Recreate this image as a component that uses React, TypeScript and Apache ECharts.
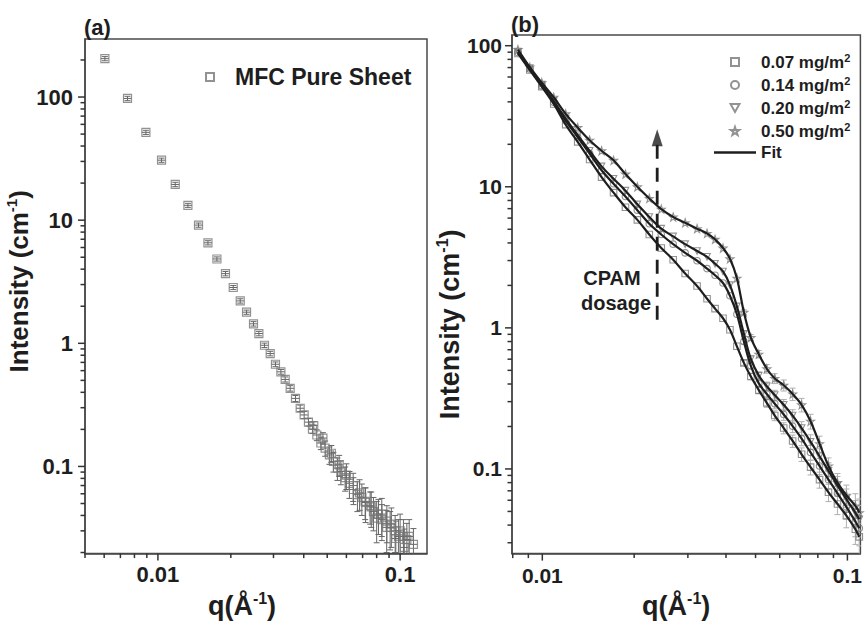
import { useEffect, useRef } from 'react';
import * as echarts from 'echarts';

const FONT = '"Liberation Sans", Arial, Helvetica, sans-serif';
const TXT = '#1e1e1e';
const AX = '#4a4a4a';
const TICK = '#333333';
const MK = '#777777';

// ---------- Panel (a): MFC pure sheet ----------
const qA = [0.00604, 0.00749, 0.00892, 0.01035, 0.01179, 0.0133, 0.01471, 0.01609, 0.01752, 0.01901, 0.02046, 0.02187, 0.02322, 0.02481, 0.02611, 0.02754, 0.02908, 0.03057, 0.03219, 0.03353, 0.03516, 0.03698, 0.03867, 0.04016, 0.04183, 0.04345, 0.0453, 0.04706, 0.04902, 0.05106, 0.05304, 0.0551, 0.05692, 0.05929, 0.06177, 0.06416, 0.06665, 0.0695, 0.07171, 0.0752, 0.0776, 0.08139, 0.08407, 0.08815, 0.09093, 0.09537, 0.0984, 0.1032, 0.1066, 0.1135];
const iA = [205, 97.4, 51.7, 30.7, 19.5, 13.2, 9.12, 6.55, 4.84, 3.68, 2.84, 2.21, 1.79, 1.44, 1.2, 0.964, 0.826, 0.676, 0.587, 0.509, 0.431, 0.357, 0.297, 0.262, 0.229, 0.201, 0.18, 0.155, 0.141, 0.124, 0.11, 0.097, 0.091, 0.081, 0.073, 0.065, 0.059, 0.056, 0.052, 0.048, 0.043, 0.041, 0.037, 0.036, 0.032, 0.03, 0.027, 0.027, 0.0255, 0.0233];
const errA = [8, 4, 2, 1.2, 0.8, 0.5, 0.36, 0.26, 0.19, 0.15, 0.11, 0.09, 0.07, 0.06, 0.05, 0.04, 0.035, 0.03, 0.026, 0.024, 0.022, 0.02, 0.018, 0.017, 0.016, 0.016, 0.018, 0.018, 0.02, 0.02, 0.02, 0.02, 0.02, 0.018, 0.018, 0.016, 0.016, 0.016, 0.015, 0.014, 0.013, 0.013, 0.012, 0.012, 0.011, 0.01, 0.01, 0.01, 0.009, 0.008];
// second, overlapping set of points at high q
const qA2 = [0.044, 0.048, 0.052, 0.056, 0.06, 0.064, 0.068, 0.072, 0.076, 0.08, 0.084, 0.088, 0.092, 0.096, 0.1, 0.104, 0.109];
const iA2 = [0.215, 0.17, 0.128, 0.103, 0.085, 0.07, 0.061, 0.051, 0.047, 0.038, 0.041, 0.032, 0.034, 0.026, 0.03, 0.022, 0.027];
const errA2 = [0.015, 0.018, 0.02, 0.02, 0.02, 0.018, 0.017, 0.016, 0.015, 0.014, 0.014, 0.012, 0.012, 0.01, 0.011, 0.009, 0.01];

// ---------- Panel (b): CPAM dosages ----------
const qB = [0.00832, 0.0091, 0.00996, 0.0109, 0.01193, 0.01306, 0.01429, 0.01564, 0.01712, 0.01873, 0.02049, 0.02242, 0.02454, 0.02685, 0.02939, 0.03216, 0.03467, 0.03683, 0.03911, 0.04121, 0.04343, 0.04578, 0.04825, 0.05124, 0.05442, 0.05779, 0.06184, 0.06615, 0.07078, 0.07572, 0.08103, 0.0867, 0.09277, 0.09925, 0.1062, 0.1094];
const iB007 = [88.1, 67.2, 51.3, 38.6, 27.6, 20.8, 15.6, 11.7, 9.09, 7.16, 5.83, 4.59, 3.68, 3.04, 2.43, 1.98, 1.61, 1.37, 1.17, 0.969, 0.74, 0.565, 0.452, 0.362, 0.294, 0.239, 0.195, 0.158, 0.127, 0.103, 0.084, 0.0683, 0.0565, 0.0467, 0.0374, 0.033];
const iB014 = [89.5, 68.3, 52.1, 39.8, 29.4, 22.5, 17.2, 13.1, 10.5, 8.53, 6.83, 5.47, 4.59, 3.92, 3.4, 2.99, 2.63, 2.36, 2.08, 1.69, 1.25, 0.801, 0.538, 0.404, 0.34, 0.29, 0.243, 0.201, 0.164, 0.131, 0.105, 0.084, 0.0672, 0.0538, 0.0424, 0.038];
const iB020 = [90.9, 69.4, 53.0, 40.5, 30.4, 23.2, 18.0, 13.96, 11.4, 9.39, 7.51, 6.11, 5.05, 4.45, 3.92, 3.51, 3.19, 2.85, 2.51, 2.01, 1.42, 0.909, 0.602, 0.459, 0.386, 0.334, 0.285, 0.239, 0.195, 0.156, 0.123, 0.0969, 0.0763, 0.0611, 0.0489, 0.044];
const iB050 = [93.9, 70.5, 54.7, 43.1, 32.9, 26.3, 21.4, 18.0, 15.4, 12.3, 10.0, 8.27, 6.94, 6.11, 5.56, 5.05, 4.67, 4.24, 3.68, 3.09, 2.25, 1.29, 0.853, 0.651, 0.513, 0.438, 0.392, 0.34, 0.285, 0.218, 0.151, 0.105, 0.08, 0.0651, 0.0547, 0.049];
// relative error of the (b) points (error bars visible at high q only)
const relErrB = [0, 0, 0, 0, 0, 0, 0, 0, 0, 0, 0, 0, 0, 0, 0, 0, 0, 0, 0, 0, 0, 0.04, 0.05, 0.06, 0.07, 0.08, 0.09, 0.1, 0.11, 0.12, 0.13, 0.14, 0.16, 0.18, 0.22, 0.25];
const namesB = ['0.07 mg/m2', '0.14 mg/m2', '0.20 mg/m2', '0.50 mg/m2'];
const valuesB = [iB007, iB014, iB020, iB050];

// arrow annotation ("CPAM dosage") in data coordinates
const arrowQ = 0.0238;
const arrowFrom = 1.14;
const arrowTo = 20;
const arrowHead = 22.3;

// ---------- axis extents and ticks ----------
const xRangeA = [0.005, 0.1291];
const yRangeA = [0.0196, 296];
const xRangeB = [0.007955, 0.1103];
const yRangeB = [0.02512, 119.1];
const xMajorA = [0.01, 0.1];
const xMinorA = [0.005, 0.006, 0.007, 0.008, 0.009, 0.02, 0.03, 0.04, 0.05, 0.06, 0.07, 0.08, 0.09];
const yMajorA = [0.1, 1, 10, 100];
const yMinorA = [0.02, 0.03, 0.04, 0.05, 0.06, 0.07, 0.08, 0.09, 0.2, 0.3, 0.4, 0.5, 0.6, 0.7, 0.8, 0.9, 2, 3, 4, 5, 6, 7, 8, 9, 20, 30, 40, 50, 60, 70, 80, 90, 200];
const xMajorB = [0.01, 0.1];
const xMinorB = [0.008, 0.009, 0.02, 0.03, 0.04, 0.05, 0.06, 0.07, 0.08, 0.09];
const yMajorB = [0.1, 1, 10, 100];
const yMinorB = [0.03, 0.04, 0.05, 0.06, 0.07, 0.08, 0.09, 0.2, 0.3, 0.4, 0.5, 0.6, 0.7, 0.8, 0.9, 2, 3, 4, 5, 6, 7, 8, 9, 20, 30, 40, 50, 60, 70, 80, 90];

const SYM_SQUARE = 'path://M0,0H10V10H0Z';
const SYM_CIRCLE = 'path://M5,0A5,5,0,1,1,5,10A5,5,0,1,1,5,0Z';
const SYM_TRI = 'path://M0,0H10L5,9Z';
const SYM_STAR = 'path://M5,0L6.2,3.6L10,3.6L7,5.9L8.1,9.5L5,7.3L1.9,9.5L3,5.9L0,3.6L3.8,3.6Z';
const SYM_ARROW = 'path://M5,0L10,16L0,16Z';
const symbolsB = [SYM_SQUARE, SYM_CIRCLE, SYM_TRI, SYM_STAR];

const fmt = (v: number) => String(Number(Number(v).toPrecision(2)));

function mainAxis(grid: number, range: number[], majors: number[], fontSize: number, margin: number, extra: any) {
  return {
    type: 'log', logBase: 10, gridIndex: grid, min: range[0], max: range[1],
    axisLine: { show: true, onZero: false, lineStyle: { color: AX, width: 1.5 } },
    axisTick: { show: false },
    axisLabel: { show: true, customValues: majors, formatter: fmt, fontSize, fontWeight: 'bold', fontFamily: FONT, color: TXT, margin },
    splitLine: { show: false },
    ...extra,
  };
}

// tick marks drawn through the axes' own scales
function tickSeries(axisIdx: number, dir: string, majors: number[], minors: number[], other: number) {
  const rows = majors.map((v) => [v, 1]).concat(minors.map((v) => [v, 0]));
  return {
    type: 'custom', xAxisIndex: axisIdx, yAxisIndex: axisIdx, clip: false, silent: true, z: 10,
    data: rows.map((d) => (dir === 'x' ? [d[0], other, d[1]] : [other, d[0], d[1]])),
    encode: { x: 0, y: 1 },
    renderItem: (params: any, api: any) => {
      const cs = params.coordSys;
      const p = api.coord([api.value(0), api.value(1)]);
      const major = api.value(2) > 0.5;
      const len = major ? 7 : 4.5;
      const style = { stroke: TICK, lineWidth: 1.5 };
      if (dir === 'x') {
        const yb = cs.y + cs.height;
        return { type: 'line', shape: { x1: p[0], y1: yb, x2: p[0], y2: yb + len }, style };
      }
      return { type: 'line', shape: { x1: cs.x, y1: p[1], x2: cs.x - len, y2: p[1] }, style };
    },
  };
}

function errSeries(axisIdx: number, data: number[][], color: string, cap: number, mid: boolean) {
  return {
    type: 'custom', xAxisIndex: axisIdx, yAxisIndex: axisIdx, clip: true, silent: true, z: 1,
    data,
    encode: { x: 0, y: 1 },
    renderItem: (_p: any, api: any) => {
      const q = api.value(0), v = api.value(1), e = api.value(2);
      const c = api.coord([q, v]);
      const hi = api.coord([q, v + e]);
      const lo = api.coord([q, Math.max(v - e, 1e-4)]);
      const st = { stroke: color, lineWidth: 1 };
      const kids: any[] = [
        { type: 'line', shape: { x1: c[0], y1: hi[1], x2: c[0], y2: lo[1] }, style: st },
        { type: 'line', shape: { x1: c[0] - cap, y1: hi[1], x2: c[0] + cap, y2: hi[1] }, style: st },
        { type: 'line', shape: { x1: c[0] - cap, y1: lo[1], x2: c[0] + cap, y2: lo[1] }, style: st },
      ];
      if (mid) kids.push({ type: 'line', shape: { x1: c[0] - 4, y1: c[1], x2: c[0] + 4, y2: c[1] }, style: st });
      return { type: 'group', children: kids };
    },
  };
}

const nameRich = (size: number) => ({
  a: { fontSize: size, fontWeight: 'bold', fontFamily: FONT, color: TXT, lineHeight: 30 },
  s: { fontSize: Math.round(size * 0.58), fontWeight: 'bold', fontFamily: FONT, color: TXT, lineHeight: 17, verticalAlign: 'top' },
});

function buildOption(): any {
  const aData = qA.map((q, i) => [q, iA[i], errA[i]]).concat(qA2.map((q, i) => [q, iA2[i], errA2[i]]));
  const bErrData: number[][] = [];
  valuesB.forEach((vals) => qB.forEach((q, i) => { if (relErrB[i] > 0) bErrData.push([q, vals[i], vals[i] * relErrB[i]]); }));

  const scatterB = namesB.map((name, k) => ({
    type: 'scatter', name, xAxisIndex: 1, yAxisIndex: 1, z: 2,
    symbol: symbolsB[k], symbolSize: k === 3 ? 8 : 6.5,
    itemStyle: { color: 'rgba(0,0,0,0)', borderColor: MK, borderWidth: 1.1 },
    data: qB.map((q, i) => [q, valuesB[k][i]]),
  }));
  const fitB = namesB.map((_n, k) => ({
    type: 'line', name: 'Fit', xAxisIndex: 1, yAxisIndex: 1, z: 3,
    symbol: 'none', showSymbol: false, smooth: 0.35,
    lineStyle: { color: TXT, width: 2.2 },
    itemStyle: { color: TXT },
    data: qB.map((q, i) => [q, valuesB[k][i]]),
  }));
  const arrowLine = {
    type: 'line', name: 'arrow', xAxisIndex: 1, yAxisIndex: 1, z: 4, silent: true,
    symbol: 'none', showSymbol: false,
    lineStyle: { color: TXT, width: 2.8, type: [14, 9] },
    data: [[arrowQ, arrowFrom], [arrowQ, arrowTo]],
  };
  const arrowTip = {
    type: 'scatter', name: 'arrowhead', xAxisIndex: 1, yAxisIndex: 1, z: 4, silent: true,
    symbol: SYM_ARROW, symbolSize: [11, 17],
    itemStyle: { color: TXT },
    data: [[arrowQ, arrowHead]],
  };

  return {
    animation: false,
    backgroundColor: '#ffffff',
    grid: [
      { left: 85, top: 39, width: 342, height: 517, show: true, borderColor: AX, borderWidth: 1.5 },
      { left: 512, top: 35, width: 350, height: 533, show: true, borderColor: AX, borderWidth: 1.5 },
    ],
    xAxis: [
      mainAxis(0, xRangeA, xMajorA, 22, 10, {
        position: 'bottom', name: '{a|q(Å}{s|-1}{a|)}', nameLocation: 'middle', nameGap: 33,
        nameTextStyle: { rich: nameRich(27), padding: [0, 28, 0, 0] },
      }),
      mainAxis(1, xRangeB, xMajorB, 21, 11, {
        position: 'bottom', name: '{a|q(Å}{s|-1}{a|)}', nameLocation: 'middle', nameGap: 26,
        nameTextStyle: { rich: nameRich(27), padding: [0, 20, 0, 0] },
      }),
    ],
    yAxis: [
      mainAxis(0, yRangeA, yMajorA, 22, 12, {
        position: 'left', name: '{a|Intensity (cm}{s|-1}{a|)}', nameLocation: 'middle', nameGap: 39,
        nameTextStyle: { rich: nameRich(26), padding: [0, 0, 0, 30] },
      }),
      mainAxis(1, yRangeB, yMajorB, 21, 10, {
        position: 'left', name: '{a|Intensity (cm}{s|-1}{a|)}', nameLocation: 'middle', nameGap: 28,
        nameTextStyle: { rich: nameRich(27), padding: [0, 60, 0, 0] },
      }),
    ],
    legend: [
      {
        orient: 'vertical', left: 200, top: 58, itemWidth: 40, itemHeight: 8, selectedMode: false,
        data: [{ name: 'MFC Pure Sheet', icon: SYM_SQUARE }],
        textStyle: { fontSize: 23, fontWeight: 'bold', fontFamily: FONT, color: TXT, lineHeight: 28 },
      },
      {
        orient: 'vertical', left: 709, top: 47, itemWidth: 42, itemHeight: 8, itemGap: 4.5, selectedMode: false,
        data: [
          ...namesB,
          { name: 'Fit', icon: 'path://M0,0H42V2.4H0Z', itemStyle: { color: TXT, borderColor: TXT, borderWidth: 0 } },
        ],
        formatter: (name: string) => (name === 'Fit' ? '{n|Fit}' : `{n|${name.slice(0, -1)}}{s|2}`),
        textStyle: {
          color: TXT,
          rich: {
            n: { fontSize: 17, fontWeight: 'bold', fontFamily: FONT, color: TXT, lineHeight: 20 },
            s: { fontSize: 11, fontWeight: 'bold', fontFamily: FONT, color: TXT, lineHeight: 12, verticalAlign: 'top' },
          },
        },
      },
    ],
    graphic: [
      { type: 'text', x: 84, y: 27, style: { text: '(a)', fontSize: 22, fontWeight: 'bold', fontFamily: FONT, fill: TXT, textVerticalAlign: 'middle' } },
      { type: 'text', x: 511, y: 24, style: { text: '(b)', fontSize: 22, fontWeight: 'bold', fontFamily: FONT, fill: TXT, textVerticalAlign: 'middle' } },
      { type: 'text', x: 612, y: 278, style: { text: 'CPAM', fontSize: 20, fontWeight: 'bold', fontFamily: FONT, fill: TXT, textAlign: 'center', textVerticalAlign: 'middle' } },
      { type: 'text', x: 616, y: 303, style: { text: 'dosage', fontSize: 20, fontWeight: 'bold', fontFamily: FONT, fill: TXT, textAlign: 'center', textVerticalAlign: 'middle' } },
    ],
    series: [
      {
        type: 'scatter', name: 'MFC Pure Sheet', xAxisIndex: 0, yAxisIndex: 0, z: 2,
        symbol: SYM_SQUARE, symbolSize: 8,
        itemStyle: { color: 'rgba(0,0,0,0)', borderColor: MK, borderWidth: 1.2 },
        data: aData.map((d) => [d[0], d[1]]),
      },
      errSeries(0, aData, '#666', 3, true),
      errSeries(1, bErrData, '#b0b0b0', 3, false),
      ...scatterB,
      ...fitB,
      arrowLine,
      arrowTip,
      tickSeries(0, 'x', xMajorA, xMinorA, yRangeA[0]),
      tickSeries(0, 'y', yMajorA, yMinorA, xRangeA[0]),
      tickSeries(1, 'x', xMajorB, xMinorB, yRangeB[0]),
      tickSeries(1, 'y', yMajorB, yMinorB, xRangeB[0]),
    ],
  };
}

export default function App() {
  const ref = useRef<HTMLDivElement>(null);
  useEffect(() => {
    document.body.style.margin = '0';
    const chart = echarts.init(ref.current as HTMLDivElement, null, { renderer: 'svg' });
    chart.setOption(buildOption());
    return () => chart.dispose();
  }, []);
  return <div ref={ref} style={{ width: 865, height: 624, position: 'absolute', left: 0, top: 0 }} />;
}
